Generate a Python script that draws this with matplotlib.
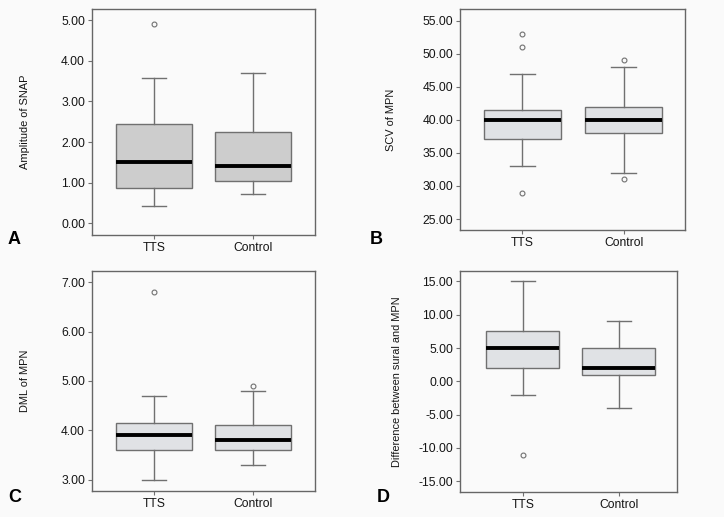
import matplotlib
matplotlib.use("Agg")
import matplotlib.pyplot as plt
from matplotlib import font_manager

names = {f.name for f in font_manager.fontManager.ttflist}
base_font = "Liberation Sans Narrow" if "Liberation Sans Narrow" in names else "Liberation Sans"
plt.rcParams['font.family'] = [base_font, 'DejaVu Sans']

groups = ["TTS", "Control"]

# Panel A: Amplitude of SNAP (low whisker, Q1, median, Q3, high whisker)
a_tts = [0.43, 0.88, 1.51, 2.45, 3.57]
a_ctl = [0.72, 1.04, 1.41, 2.24, 3.71]
a_fl_tts = [4.90]
a_fl_ctl = []

# Panel B: SCV of MPN
b_tts = [33.0, 37.1, 40.0, 41.5, 47.0]
b_ctl = [32.0, 38.0, 40.0, 42.0, 48.0]
b_fl_tts = [53.0, 51.0, 29.0]
b_fl_ctl = [49.0, 31.0]

# Panel C: DML of MPN
c_tts = [3.00, 3.60, 3.90, 4.15, 4.70]
c_ctl = [3.30, 3.60, 3.80, 4.10, 4.80]
c_fl_tts = [6.80]
c_fl_ctl = [4.90]

# Panel D: Difference between sural and MPN
d_tts = [-2.0, 2.0, 5.0, 7.5, 15.0]
d_ctl = [-4.0, 1.0, 2.0, 5.0, 9.0]
d_fl_tts = [-11.0]
d_fl_ctl = []

a_ticks = [0, 1, 2, 3, 4, 5]
b_ticks = [25, 30, 35, 40, 45, 50, 55]
c_ticks = [3, 4, 5, 6, 7]
d_ticks = [-15, -10, -5, 0, 5, 10, 15]

panels = [
    dict(letter="A", label="Amplitude of SNAP", stats=(a_tts, a_ctl), fl=(a_fl_tts, a_fl_ctl),
         ticks=a_ticks, ylim=(-0.29, 5.28), fill="#cdcdcd",
         rect=[0.127, 0.5455, 0.308, 0.4371], xlim=(0.374, 2.626),
         letter_xy=(8 / 724, 1 - 239 / 517), ylab_x=25 / 724),
    dict(letter="B", label="SCV of MPN", stats=(b_tts, b_ctl), fl=(b_fl_tts, b_fl_ctl),
         ticks=b_ticks, ylim=(23.34, 56.77), fill="#e0e2e5",
         rect=[0.6354, 0.5551, 0.3112, 0.4275], xlim=(0.385, 2.608),
         letter_xy=(370 / 724, 1 - 239 / 517), ylab_x=391 / 724),
    dict(letter="C", label="DML of MPN", stats=(c_tts, c_ctl), fl=(c_fl_tts, c_fl_ctl),
         ticks=c_ticks, ylim=(2.78, 7.23), fill="#e0e2e5",
         rect=[0.127, 0.0509, 0.308, 0.4255], xlim=(0.374, 2.626),
         letter_xy=(8 / 724, 1 - 497 / 517), ylab_x=25 / 724),
    dict(letter="D", label="Difference between sural and MPN", stats=(d_tts, d_ctl), fl=(d_fl_tts, d_fl_ctl),
         ticks=d_ticks, ylim=(-16.65, 16.6), fill="#e0e2e5",
         rect=[0.6354, 0.0478, 0.2997, 0.4286], xlim=(0.347, 2.607),
         letter_xy=(377 / 724, 1 - 498 / 517), ylab_x=397 / 724),
]

fig = plt.figure(figsize=(7.24, 5.17), dpi=100, facecolor="#fafafa")

edge = "#707070"
for p in panels:
    ax = fig.add_axes(p["rect"])
    ax.set_facecolor("#fafafa")
    bstats = []
    for name, s, fl in zip(groups, p["stats"], p["fl"]):
        bstats.append(dict(label=name, whislo=s[0], q1=s[1], med=s[2], q3=s[3], whishi=s[4], fliers=fl))
    ax.bxp(bstats, positions=[1, 2], widths=0.76, capwidths=0.25, patch_artist=True,
           boxprops=dict(facecolor=p["fill"], edgecolor=edge, linewidth=1.0),
           whiskerprops=dict(color=edge, linewidth=1.0),
           capprops=dict(color=edge, linewidth=1.0),
           medianprops=dict(color="black", linewidth=2.8),
           flierprops=dict(marker="o", markersize=3.5, markerfacecolor="none",
                           markeredgecolor=edge, markeredgewidth=0.8))
    ax.set_xlim(*p["xlim"])
    ax.set_ylim(*p["ylim"])
    ax.set_yticks(p["ticks"])
    ax.set_yticklabels([f"{t:.2f}" for t in p["ticks"]])
    ax.set_xticks([1, 2])
    ax.set_xticklabels(groups)
    ax.tick_params(axis="both", direction="out", length=3, width=0.8, color=edge,
                   labelsize=8.7, labelcolor="#151515", pad=2)
    for sp in ax.spines.values():
        sp.set_color("#666666")
        sp.set_linewidth(1.0)
    fig.text(p["ylab_x"], p["rect"][1] + p["rect"][3] / 2, p["label"], rotation=90,
             ha="center", va="center", fontsize=7.9, color="#151515")
    fig.text(p["letter_xy"][0], p["letter_xy"][1], p["letter"], ha="left", va="center",
             fontsize=13, fontweight="bold", color="black", family=["Liberation Sans", "DejaVu Sans"])

fig.savefig("out.png", dpi=100, facecolor=fig.get_facecolor())
